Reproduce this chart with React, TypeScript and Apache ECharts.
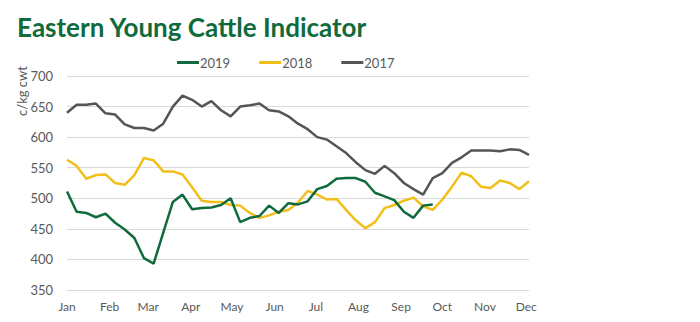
import React, { useEffect, useRef } from "react";
import * as echarts from "echarts";

const monthLabels = ["Jan", "Feb", "Mar", "Apr", "May", "Jun", "Jul", "Aug", "Sep", "Oct", "Nov", "Dec"];
const monthStartDays = [0, 31, 59, 90, 120, 151, 181, 212, 243, 273, 304, 334];

const seriesNames = ["2019", "2018", "2017"];
const seriesColors = ["#0F6B3C", "#F2BE1A", "#555555"];

// weekly values (c/kg cwt), week 0 = 1 Jan
const values2019 = [511, 478, 476, 469, 475, 460, 449, 435, 402, 393, 444, 494, 506, 482, 484, 485, 489, 500, 461, 468, 471, 488, 476, 492, 490, 495, 515, 520, 532, 533, 533, 527, 509, 503, 497, 478, 468, 488, 490];
const values2018 = [563, 553, 532, 538, 539, 525, 522, 538, 566, 562, 544, 544, 539, 518, 496, 494, 494, 489, 488, 476, 468, 472, 478, 481, 493, 512, 506, 498, 499, 481, 464, 451, 461, 484, 489, 496, 501, 487, 481, 498, 519, 542, 536, 519, 517, 529, 525, 515, 528];
const values2017 = [640, 653, 653, 655, 639, 637, 621, 615, 615, 611, 622, 650, 668, 661, 650, 659, 644, 634, 650, 652, 655, 644, 642, 634, 622, 613, 600, 596, 585, 574, 559, 546, 540, 553, 541, 525, 515, 506, 533, 541, 558, 567, 578, 578, 578, 577, 580, 579, 571];

const yTicks = [350, 400, 450, 500, 550, 600, 650, 700];

const FONT = "Lato, 'Open Sans', sans-serif";

function toPoints(vals: number[]) {
  return vals.map((v, i) => [i * 7, v]);
}

export default function App() {
  const ref = useRef<HTMLDivElement>(null);
  useEffect(() => {
    if (!ref.current) return;
    document.body.style.margin = "0";
    const chart = echarts.init(ref.current, undefined, { renderer: "svg" });
    const allVals = [values2019, values2018, values2017];
    chart.setOption({
      animation: false,
      backgroundColor: "#ffffff",
      title: {
        text: "Eastern Young Cattle Indicator",
        left: 12,
        top: 9,
        textStyle: { fontFamily: FONT, fontWeight: "bold", fontSize: 26, color: "#0F6B3C" },
      },
      legend: {
        left: 172,
        top: 51,
        data: seriesNames,
        icon: "rect",
        itemWidth: 22,
        itemHeight: 3,
        itemGap: 29,
        textStyle: { fontFamily: FONT, fontSize: 13, color: "#595959", padding: [0, 0, 0, -4] },
      },
      grid: { left: 67, right: 171, top: 76, bottom: 32 },
      xAxis: {
        type: "value",
        min: 0,
        max: 336,
        axisLine: { show: false },
        axisTick: { show: false },
        splitLine: { show: false },
        axisLabel: {
          customValues: monthStartDays,
          formatter: (v: number) => {
            const idx = monthStartDays.indexOf(Math.round(v));
            return idx >= 0 ? monthLabels[idx] : "";
          },
          fontFamily: FONT,
          fontSize: 12,
          color: "#595959",
          margin: 10,
          showMaxLabel: true,
        },
      },
      yAxis: {
        type: "value",
        min: yTicks[0],
        max: yTicks[yTicks.length - 1],
        interval: 50,
        axisLine: { show: false },
        axisTick: { show: false },
        splitLine: { lineStyle: { color: "#D9D9D9", width: 1 } },
        axisLabel: { fontFamily: FONT, fontSize: 13, color: "#595959", margin: 14 },
      },
      graphic: [
        {
          type: "text",
          x: 22,
          y: 91,
          rotation: Math.PI / 2,
          style: {
            text: "c/kg cwt",
            fontFamily: FONT,
            fontSize: 13,
            fill: "#595959",
            textAlign: "center",
            textVerticalAlign: "middle",
          },
        },
      ],
      series: seriesNames.map((name, k) => ({
        name,
        type: "line",
        data: toPoints(allVals[k]),
        showSymbol: false,
        symbol: "none",
        lineStyle: { color: seriesColors[k], width: 2.5 },
        itemStyle: { color: seriesColors[k] },
        z: 3 - k,
      })),
    });
    return () => chart.dispose();
  }, []);
  return <div ref={ref} style={{ width: 700, height: 322 }} />;
}
